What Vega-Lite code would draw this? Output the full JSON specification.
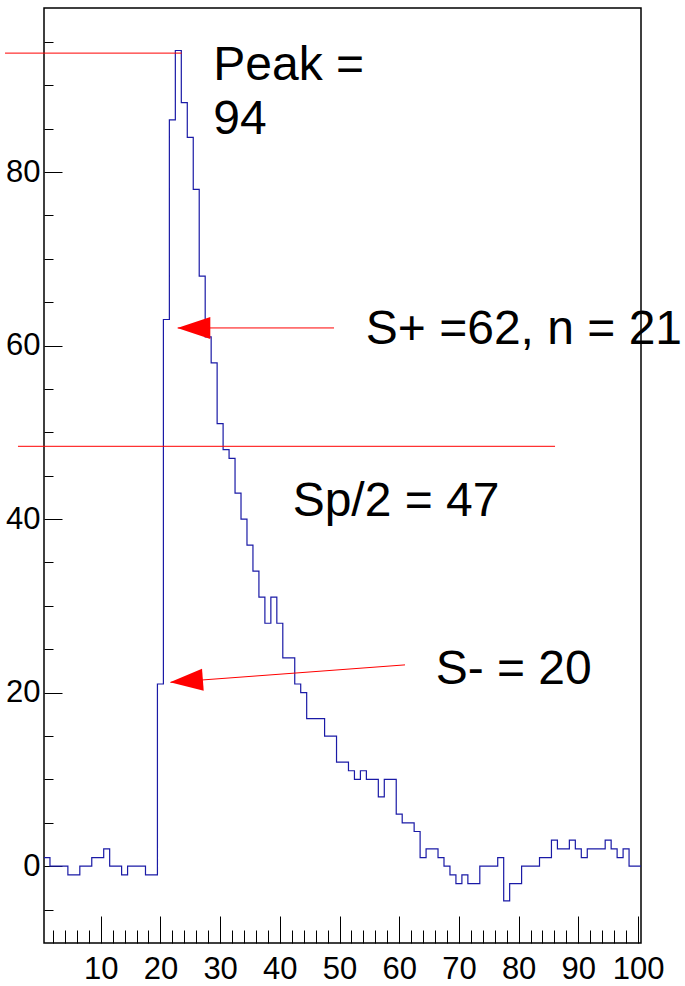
{
  "$schema": "https://vega.github.io/schema/vega-lite/v6.json",
  "width": 597,
  "height": 935,
  "autosize": {"type": "none"},
  "padding": {"left": 44, "top": 8, "right": 44, "bottom": 43},
  "background": "#ffffff",
  "config": {
    "view": {"stroke": "#000000", "strokeWidth": 1.5},
    "axis": {
      "domain": false,
      "grid": false,
      "title": null,
      "tickColor": "#000000",
      "tickWidth": 1,
      "labelColor": "#000000",
      "labelFont": "Liberation Sans Narrow, Arial Narrow, Liberation Sans, sans-serif",
      "labelFontSize": 31,
      "labelOverlap": false,
      "labelFlush": false,
      "labelBound": false
    }
  },
  "encoding": {
    "x": {
      "field": "x",
      "type": "quantitative",
      "scale": {"domain": [0.5, 100.5], "nice": false, "zero": false},
      "axis": {
        "orient": "bottom",
        "values": [2,4,6,8,10,12,14,16,18,20,22,24,26,28,30,32,34,36,38,40,42,44,46,48,50,52,54,56,58,60,62,64,66,68,70,72,74,76,78,80,82,84,86,88,90,92,94,96,98,100],
        "tickSize": {"condition": {"test": "datum.value % 10 === 0", "value": -27}, "value": -13},
        "labelExpr": "datum.value % 10 === 0 ? datum.label : ''",
        "labelPadding": 38,
        "labelBaseline": "top"
      }
    },
    "y": {
      "field": "y",
      "type": "quantitative",
      "scale": {"domain": [-8.85, 98.9], "nice": false, "zero": false},
      "axis": {
        "orient": "left",
        "values": [-5,0,5,10,15,20,25,30,35,40,45,50,55,60,65,70,75,80,85,90,95],
        "tickSize": {"condition": {"test": "datum.value % 20 === 0", "value": -18}, "value": -9},
        "labelExpr": "datum.value % 20 === 0 ? datum.label : ''",
        "labelPadding": 22
      }
    }
  },
  "layer": [
    {
      "data": {"values": [
        {"x": 0.5, "y": 1}, {"x": 1.5, "y": 0}, {"x": 2.5, "y": 0}, {"x": 3.5, "y": 0},
        {"x": 4.5, "y": -1}, {"x": 5.5, "y": -1}, {"x": 6.5, "y": 0}, {"x": 7.5, "y": 0},
        {"x": 8.5, "y": 1}, {"x": 9.5, "y": 1}, {"x": 10.5, "y": 2}, {"x": 11.5, "y": 0},
        {"x": 12.5, "y": 0}, {"x": 13.5, "y": -1}, {"x": 14.5, "y": 0}, {"x": 15.5, "y": 0},
        {"x": 16.5, "y": 0}, {"x": 17.5, "y": -1}, {"x": 18.5, "y": -1}, {"x": 19.5, "y": 21},
        {"x": 20.5, "y": 63}, {"x": 21.5, "y": 86}, {"x": 22.5, "y": 94}, {"x": 23.5, "y": 88},
        {"x": 24.5, "y": 84}, {"x": 25.5, "y": 78}, {"x": 26.5, "y": 68}, {"x": 27.5, "y": 61},
        {"x": 28.5, "y": 58}, {"x": 29.5, "y": 51}, {"x": 30.5, "y": 48}, {"x": 31.5, "y": 47},
        {"x": 32.5, "y": 43}, {"x": 33.5, "y": 40}, {"x": 34.5, "y": 37}, {"x": 35.5, "y": 34},
        {"x": 36.5, "y": 31}, {"x": 37.5, "y": 28}, {"x": 38.5, "y": 31}, {"x": 39.5, "y": 28},
        {"x": 40.5, "y": 24}, {"x": 41.5, "y": 24}, {"x": 42.5, "y": 21}, {"x": 43.5, "y": 20},
        {"x": 44.5, "y": 17}, {"x": 45.5, "y": 17}, {"x": 46.5, "y": 17}, {"x": 47.5, "y": 15},
        {"x": 48.5, "y": 15}, {"x": 49.5, "y": 12}, {"x": 50.5, "y": 12}, {"x": 51.5, "y": 11},
        {"x": 52.5, "y": 10}, {"x": 53.5, "y": 11}, {"x": 54.5, "y": 10}, {"x": 55.5, "y": 10},
        {"x": 56.5, "y": 8}, {"x": 57.5, "y": 10}, {"x": 58.5, "y": 10}, {"x": 59.5, "y": 6},
        {"x": 60.5, "y": 5}, {"x": 61.5, "y": 5}, {"x": 62.5, "y": 4}, {"x": 63.5, "y": 1},
        {"x": 64.5, "y": 2}, {"x": 65.5, "y": 2}, {"x": 66.5, "y": 1}, {"x": 67.5, "y": 0},
        {"x": 68.5, "y": -1}, {"x": 69.5, "y": -2}, {"x": 70.5, "y": -1}, {"x": 71.5, "y": -2},
        {"x": 72.5, "y": -2}, {"x": 73.5, "y": 0}, {"x": 74.5, "y": 0}, {"x": 75.5, "y": 0},
        {"x": 76.5, "y": 1}, {"x": 77.5, "y": -4}, {"x": 78.5, "y": -2}, {"x": 79.5, "y": -2},
        {"x": 80.5, "y": 0}, {"x": 81.5, "y": 0}, {"x": 82.5, "y": 0}, {"x": 83.5, "y": 1},
        {"x": 84.5, "y": 1}, {"x": 85.5, "y": 3}, {"x": 86.5, "y": 2}, {"x": 87.5, "y": 2},
        {"x": 88.5, "y": 3}, {"x": 89.5, "y": 2}, {"x": 90.5, "y": 1}, {"x": 91.5, "y": 2},
        {"x": 92.5, "y": 2}, {"x": 93.5, "y": 2}, {"x": 94.5, "y": 3}, {"x": 95.5, "y": 2},
        {"x": 96.5, "y": 1}, {"x": 97.5, "y": 2}, {"x": 98.5, "y": 0}, {"x": 99.5, "y": 0},
        {"x": 100.5, "y": 0}
      ]},
      "mark": {"type": "line", "interpolate": "step-after", "color": "#1a1aa6", "strokeWidth": 1.2}
    },
    {
      "data": {"values": [
        {"x": -6.03, "y": 93.7, "x2": 23.56, "y2": 93.7},
        {"x": -3.86, "y": 48.39, "x2": 86.1, "y2": 48.39},
        {"x": 22.9, "y": 62.03, "x2": 49.08, "y2": 62.03},
        {"x": 21.7, "y": 21.19, "x2": 60.97, "y2": 23.2}
      ]},
      "mark": {"type": "rule", "color": "#ff0000", "strokeWidth": 1},
      "encoding": {
        "x2": {"field": "x2"},
        "y2": {"field": "y2"}
      }
    },
    {
      "data": {"values": [{"x": 22.83, "y": 62.03}]},
      "mark": {"type": "point", "shape": "M0,0L2,-0.667L2,0.667Z", "size": 1089, "filled": true, "color": "#ff0000", "opacity": 1, "strokeWidth": 0}
    },
    {
      "data": {"values": [{"x": 21.6, "y": 21.19}]},
      "mark": {"type": "point", "shape": "M0,0L2,-0.667L2,0.667Z", "size": 1089, "angle": 355.6, "filled": true, "color": "#ff0000", "opacity": 1, "strokeWidth": 0}
    },
    {
      "data": {"values": [
        {"x": 28.85, "y": 90.6, "label": "Peak ="},
        {"x": 28.85, "y": 84.4, "label": "94"},
        {"x": 54.4, "y": 60.15, "label": "S+ =62, n = 21"},
        {"x": 42.15, "y": 40.4, "label": "Sp/2 = 47"},
        {"x": 66.1, "y": 21.0, "label": "S- = 20"}
      ]},
      "mark": {"type": "text", "align": "left", "baseline": "alphabetic", "font": "Liberation Sans", "fontSize": 48, "color": "#000000"},
      "encoding": {
        "text": {"field": "label", "type": "nominal"}
      }
    }
  ]
}
